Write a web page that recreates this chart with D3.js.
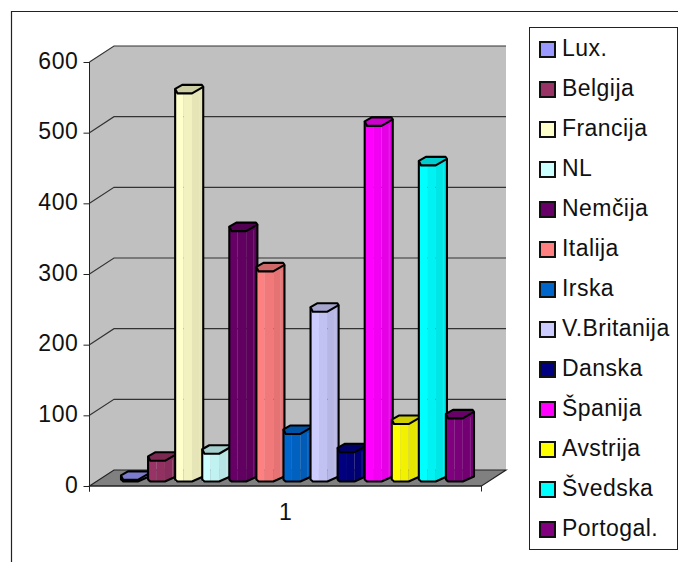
<!DOCTYPE html>
<html>
<head>
<meta charset="utf-8">
<script src="https://d3js.org/d3.v7.min.js"></script>
<style>
  body{ margin:0; background:white; }
  text{ font-family:"Liberation Sans", Arial, sans-serif; fill:#111; }
</style>
</head>
<body>
<script>
// data
const names = ["Lux.", "Belgija", "Francija", "NL", "Nemčija", "Italija", "Irska", "V.Britanija", "Danska", "Španija", "Avstrija", "Švedska", "Portogal."];
const values = [3, 30, 550, 40, 355, 298, 68, 241, 42, 504, 82, 448, 90];
const colors = ["#9999ff", "#993366", "#ffffcc", "#ccffff", "#660066", "#ff8080", "#0066cc", "#ccccff", "#000080", "#ff00ff", "#ffff00", "#00ffff", "#800080"];
const yTicks = [0, 100, 200, 300, 400, 500, 600];
const categories = ["1"];

const width = 678, height = 562;
const left = 89.5, right = 481.5, top0 = 62, bottom = 486;
const depthX = 24.5, depthY = 16;     // 3d offset of the back wall
const barDepth = 8;                   // bars stand in the middle of the floor

const svg = d3.select("body").append("svg").attr("width", width).attr("height", height).style("display", "block");

const y = d3.scaleLinear().domain([0, 600]).range([bottom, top0]);
const xCat = d3.scaleBand().domain(categories).range([left, right]);
const xBar = d3.scaleBand().domain(names).range([121, 473]);
const barW = xBar.bandwidth() + 1;

// outer frame, only top and left show
svg.append("path").attr("d", "M11.5,562V11.5H678").attr("fill", "none").attr("stroke", "#222").attr("stroke-width", 1.2);

// walls + floor
svg.append("path")
  .attr("d", d3.line()([[left, y(600)], [left + depthX, y(600) - depthY], [right + depthX, y(600) - depthY], [right + depthX, y(0) - depthY], [left + depthX, y(0) - depthY], [left, y(0)]]) + "Z")
  .attr("fill", "#c0c0c0");
svg.append("path")
  .attr("d", d3.line()([[left, y(0)], [left + depthX, y(0) - depthY], [right + depthX, y(0) - depthY], [right, y(0)]]) + "Z")
  .attr("fill", "#808080").attr("stroke", "#222").attr("stroke-width", 1.2);

// gridlines
svg.append("g").selectAll("path").data(yTicks.filter(d => d > 0)).enter().append("path")
  .attr("d", d => d3.line()([[left, y(d)], [left + depthX, y(d) - depthY], [right + depthX, y(d) - depthY]]))
  .attr("fill", "none").attr("stroke", "#333").attr("stroke-width", 1.1);

// axes
const yAxis = svg.append("g").attr("transform", "translate(" + left + ",0)")
  .call(d3.axisLeft(y).tickValues(yTicks).tickSize(6).tickPadding(5));
yAxis.selectAll("text").attr("font-size", 23).attr("font-family", null).attr("letter-spacing", 0.6).attr("dy", "0.27em");
yAxis.selectAll("line,path").attr("stroke", "#222");
yAxis.select("path").attr("d", "M0," + y(600) + "V" + (bottom + 5.5));

const xAxis = svg.append("g").attr("transform", "translate(0," + bottom + ")")
  .call(d3.axisBottom(xCat).tickSize(0).tickPadding(18));
xAxis.selectAll("text").attr("font-size", 23).attr("font-family", null);
xAxis.select("path").attr("stroke", "#222").attr("d", "M" + left + ",0V5.5M" + left + ",0H" + right + "M" + right + ",0V5.5");

// one bar = three side faces plus a top hexagon
function shade(c, k){ return d3.rgb(c).darker(k).formatHex(); }
function hexTop(x0, t){
  return [[x0, t - 0.5], [x0 + .25 * barW, t - 4.5], [x0 + .95 * barW, t - 4.5], [x0 + barW, t - 2.5], [x0 + .6 * barW, t + 4], [x0 + .08 * barW, t + 4]];
}
const line = d3.line();
const bars = svg.append("g").selectAll("g").data(names).enter().append("g");

bars.each(function(d, i){
  const g = d3.select(this);
  const x0 = xBar(d);
  const t = y(values[i]) - barDepth;
  const b = y(0) - barDepth;
  const faces = [[0, .3, 0], [.3, .6, .15], [.6, 1, .3]];
  faces.forEach(f => {
    const xa = x0 + f[0] * barW, xb = x0 + f[1] * barW;
    const endB = f[1] == 1 ? -1.5 : 3.5;
    g.append("path")
      .attr("d", line([[xa, t + 3.5], [xb, t + endB], [xb, b + endB], [xa, b + 3.5]]) + "Z")
      .attr("fill", shade(colors[i], f[2]));
  });
  // faint highlight near the right edge
  if (values[i] > 20) {
    g.append("path")
      .attr("d", line([[x0 + .87 * barW, t + 3], [x0 + .87 * barW, b]]))
      .attr("stroke", "#fff").attr("stroke-opacity", .15).attr("stroke-width", 1);
  }
  // outline
  g.append("path")
    .attr("d", line([[x0, t - 0.5], [x0, b + 1.5], [x0 + .08 * barW, b + 3.5], [x0 + .6 * barW, b + 3.5], [x0 + barW, b - 1.5], [x0 + barW, t - 2.5]]))
    .attr("fill", "none").attr("stroke", "#000").attr("stroke-width", 2.1).attr("stroke-linejoin", "round");
  g.append("path")
    .attr("d", line(hexTop(x0, t)) + "Z")
    .attr("fill", shade(colors[i], .6)).attr("stroke", "#000").attr("stroke-width", 2.1).attr("stroke-linejoin", "round");
});

// legend
const legendY = d3.scalePoint().domain(names).range([48, 528]);
svg.append("rect").attr("x", 529.5).attr("y", 27.5).attr("width", 148).attr("height", 522)
  .attr("fill", "white").attr("stroke", "#222");
const leg = svg.append("g").selectAll("g").data(names).enter().append("g")
  .attr("transform", d => "translate(0," + legendY(d) + ")");
leg.append("rect").attr("x", 540).attr("y", -6).attr("width", 15).attr("height", 15)
  .attr("fill", (d, i) => colors[i]).attr("stroke", "#111").attr("stroke-width", 2);
leg.append("text").attr("x", 562).attr("y", 8).attr("font-size", 23).attr("letter-spacing", 0.45).text(d => d);
</script>
</body>
</html>
